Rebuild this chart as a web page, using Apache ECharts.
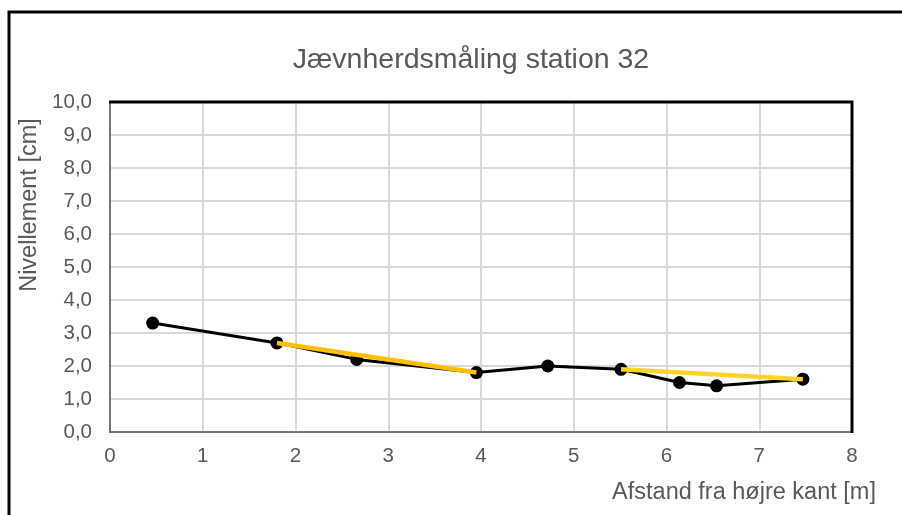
<!DOCTYPE html>
<html>
<head>
<meta charset="utf-8">
<script src="https://cdn.jsdelivr.net/npm/echarts@6/dist/echarts.min.js"></script>
<style>
  html, body { margin: 0; padding: 0; background: #fff; }
  #chart { width: 902px; height: 515px; }
</style>
</head>
<body>
<div id="chart"></div>
<script>
// Distance from the right edge [m] and measured level [cm]
const distance = [0.46, 1.80, 2.66, 3.95, 4.72, 5.51, 6.14, 6.54, 7.47];
const level    = [3.3, 2.7, 2.2, 1.8, 2.0, 1.9, 1.5, 1.4, 1.6];

// Straight reference lines between selected measuring points
const refA_x = [1.80, 3.95];
const refA_y = [2.7, 1.8];
const refB_x = [5.51, 7.47];
const refB_y = [1.9, 1.6];

const titleText = 'Jævnherdsmåling station 32';
const xName = 'Afstand fra højre kant [m]';
const yName = 'Nivellement [cm]';

const FONT = '"Liberation Sans", Arial, sans-serif';
const TXT = '#595959';

// Plot frame
const G = { left: 110, top: 102, width: 742, height: 330 };

const pairs = (xs, ys) => xs.map((x, i) => [x, ys[i]]);

const chart = echarts.init(document.getElementById('chart'), null, { renderer: 'canvas' });
chart.setOption({
  animation: false,
  backgroundColor: '#fff',
  grid: { left: G.left, top: G.top, width: G.width, height: G.height, show: false },
  xAxis: {
    type: 'value', min: 0, max: 8, interval: 1,
    axisLine: { show: true, onZero: false, lineStyle: { color: '#767676', width: 2 } },
    axisTick: { show: false },
    splitLine: { show: true, lineStyle: { color: '#d9d9d9', width: 2 } },
    axisLabel: { color: TXT, fontFamily: FONT, fontSize: 20.5, margin: 14 }
  },
  yAxis: {
    type: 'value', min: 0, max: 10, interval: 1,
    axisLine: { show: true, onZero: false, lineStyle: { color: '#767676', width: 2 } },
    axisTick: { show: false },
    splitLine: { show: true, lineStyle: { color: '#d9d9d9', width: 2 } },
    axisLabel: {
      color: TXT, fontFamily: FONT, fontSize: 20.5, margin: 18,
      formatter: v => v.toFixed(1).replace('.', ',')
    }
  },
  series: [
    {
      type: 'line', data: pairs(distance, level),
      symbol: 'circle', symbolSize: 13,
      lineStyle: { color: '#000', width: 3 },
      itemStyle: { color: '#000' }, z: 2
    },
    {
      type: 'line', data: pairs(refA_x, refA_y),
      symbol: 'none', lineStyle: { color: '#FFC000', width: 4.5 }, z: 3
    },
    {
      type: 'line', data: pairs(refB_x, refB_y),
      symbol: 'none', lineStyle: { color: '#FFD42A', width: 4.5 }, z: 3
    }
  ],
  graphic: [
    {
      type: 'rect', shape: { x: 9, y: 12, width: 1000, height: 600 },
      style: { fill: 'none', stroke: '#000', lineWidth: 3 }, silent: true
    },
    {
      // dark top and right edges of the plot frame
      type: 'polyline', z: 10, silent: true,
      shape: { points: [[G.left - 1, G.top], [G.left + G.width, G.top], [G.left + G.width, G.top + G.height + 1]] },
      style: { fill: 'none', stroke: '#000', lineWidth: 3 }
    },
    {
      type: 'text', x: 471, y: 60,
      style: { text: titleText, fill: TXT, font: '28.5px ' + FONT, align: 'center', verticalAlign: 'middle' }
    },
    {
      type: 'text', x: 744, y: 493,
      style: { text: xName, fill: TXT, font: '23.5px ' + FONT, align: 'center', verticalAlign: 'middle' }
    },
    {
      type: 'text', x: 30, y: 205, rotation: Math.PI / 2,
      style: { text: yName, fill: TXT, font: '23.5px ' + FONT, align: 'center', verticalAlign: 'middle' }
    }
  ]
});
</script>
</body>
</html>
